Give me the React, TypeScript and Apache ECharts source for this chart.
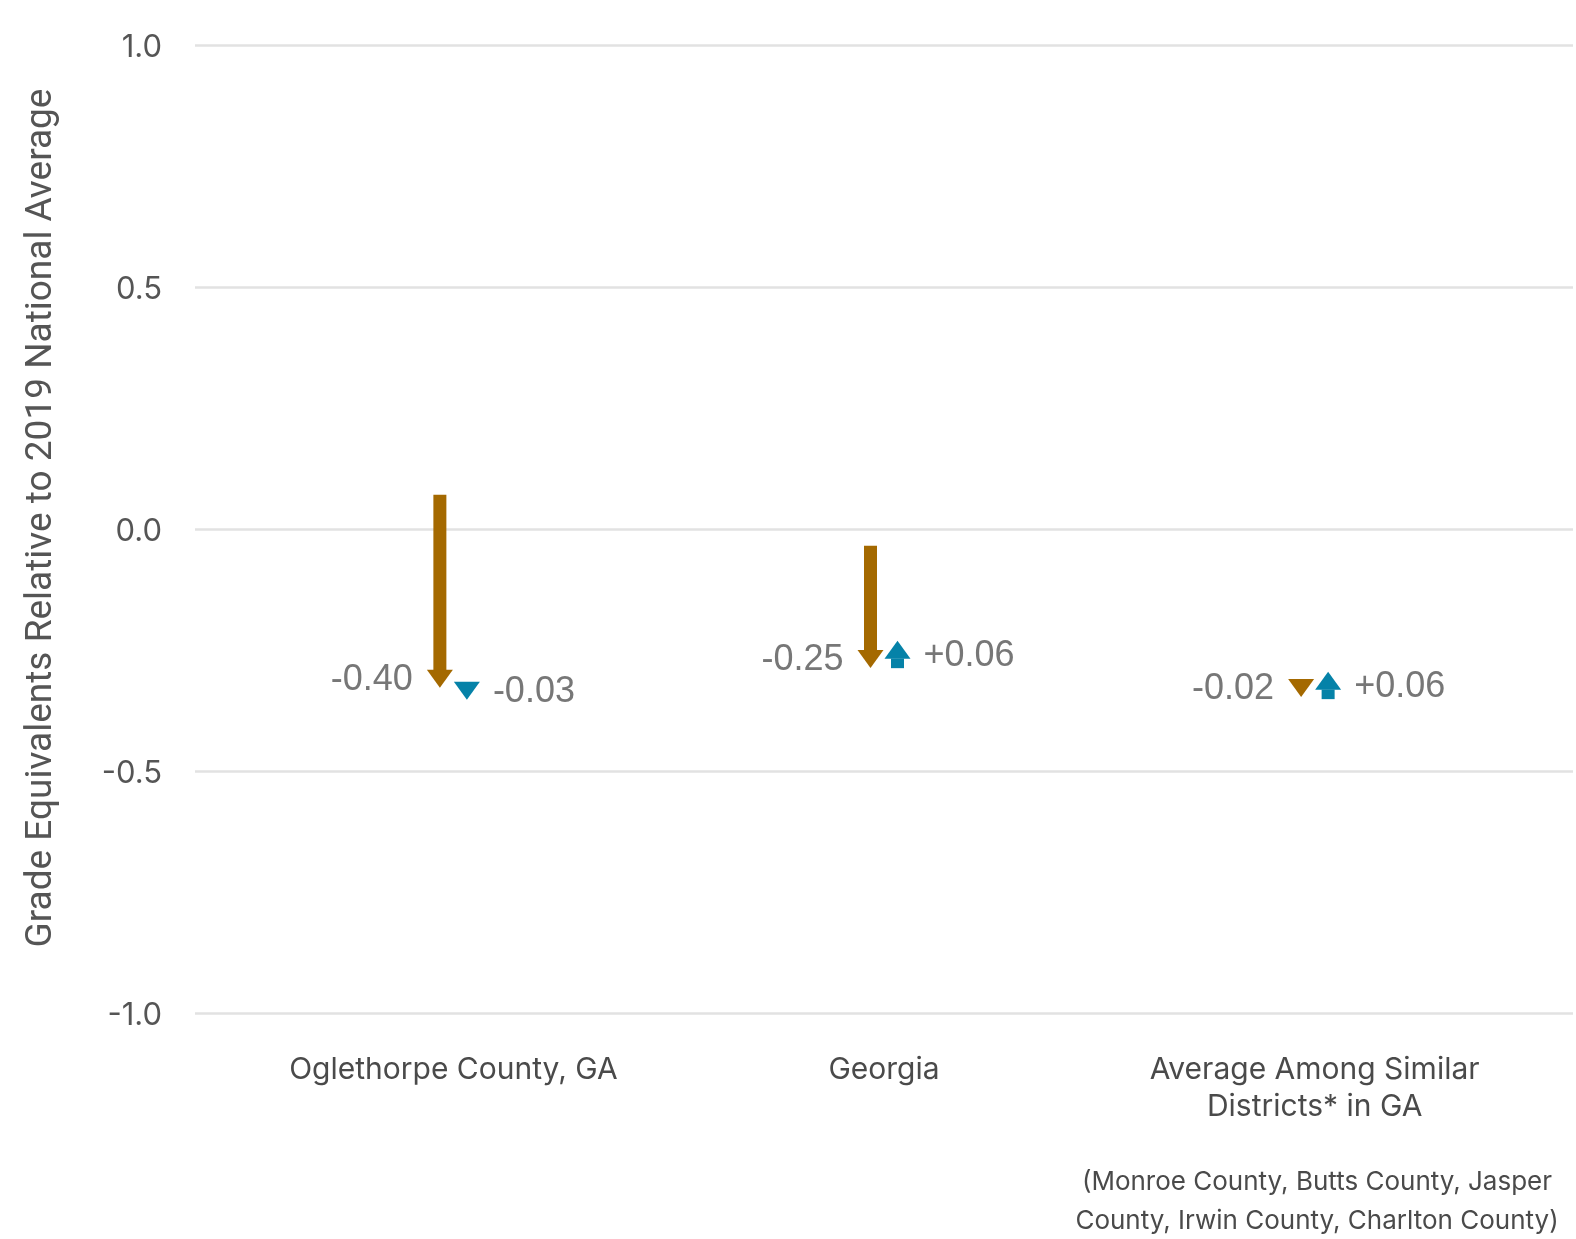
import React, { useEffect, useRef } from "react";
import * as echarts from "echarts";

const categories = ["Oglethorpe County, GA", "Georgia", "Average Among Similar\nDistricts* in GA"];
const orangeStart = [0.07, -0.035, -0.327];
const orangeEnd = [-0.328, -0.287, -0.347];
const blueStart = [-0.323, -0.287, -0.351];
const blueEnd = [-0.353, -0.231, -0.295];
const orangeLabels = ["-0.40", "-0.25", "-0.02"];
const blueLabels = ["-0.03", "+0.06", "+0.06"];
const footnote = "(Monroe County, Butts County, Jasper\nCounty, Irwin County, Charlton County)";
const yTitle = "Grade Equivalents Relative to 2019 National Average";

const ORANGE = "#A46900";
const BLUE = "#0582A8";

function makeArrowRender(color: string, offset: number, labels: string[], side: "left" | "right") {
  return (params: any, api: any) => {
    const idx = api.value(0);
    const x = api.coord([idx, 0])[0] + offset;
    const y0 = api.coord([idx, api.value(1)])[1];
    const y1 = api.coord([idx, api.value(2)])[1];
    const dir = y1 >= y0 ? 1 : -1;
    const headLen = 18;
    const headW = 26;
    const shaftW = 13;
    const children: any[] = [];
    const baseY = y1 - dir * headLen;
    if (Math.abs(y1 - y0) > headLen) {
      const top = Math.min(y0, baseY);
      const h = Math.abs(baseY - y0);
      children.push({
        type: "rect",
        shape: { x: x - shaftW / 2, y: top - 0.25, width: shaftW, height: h + 0.5 },
        style: { fill: color },
      });
    }
    children.push({
      type: "polygon",
      shape: { points: [[x - headW / 2, baseY], [x + headW / 2, baseY], [x, y1]] },
      style: { fill: color },
    });
    const ly = dir > 0 ? y1 - 10 : y1 + 13;
    children.push({
      type: "text",
      style: {
        text: labels[params.dataIndex],
        x: side === "left" ? x - 27 : x + 26,
        y: ly,
        align: side === "left" ? "right" : "left",
        verticalAlign: "middle",
        fill: "#777777",
        fontSize: 36,
        fontFamily: "Liberation Sans, Arial, sans-serif",
      },
    });
    return { type: "group", children };
  };
}

export default function App() {
  const ref = useRef<HTMLDivElement>(null);
  useEffect(() => {
    if (!ref.current) return;
    const chart = echarts.init(ref.current, undefined, { renderer: "svg" });
    const orangeData = categories.map((_, i) => [i, orangeStart[i], orangeEnd[i]]);
    const blueData = categories.map((_, i) => [i, blueStart[i], blueEnd[i]]);
    chart.setOption({
      animation: false,
      grid: { left: 195, right: 3, top: 45, bottom: 226 },
      xAxis: {
        type: "value",
        min: -0.6,
        max: 2.6,
        splitLine: { show: false },
        axisLine: { show: false },
        axisTick: { show: false },
        axisLabel: {
          customValues: [0, 1, 2],
          formatter: (v: number) => categories[Math.round(v)] ?? "",
          margin: 36,
          fontSize: 30,
          lineHeight: 37,
          color: "#4a4a4a",
          fontFamily: "Inter, sans-serif",
          align: "center",
        },
      },
      yAxis: {
        type: "value",
        min: -1,
        max: 1,
        interval: 0.5,
        axisLine: { show: false },
        axisTick: { show: false },
        splitLine: { lineStyle: { color: "#e2e2e2", width: 2.5 } },
        axisLabel: {
          formatter: (v: number) => v.toFixed(1),
          margin: 33,
          fontSize: 31,
          color: "#555555",
          fontFamily: "Inter, sans-serif",
        },
      },
      graphic: [
        {
          type: "text",
          x: 38,
          y: 518,
          rotation: Math.PI / 2,
          style: {
            text: yTitle,
            align: "center",
            verticalAlign: "middle",
            fontSize: 37,
            fill: "#555555",
            fontFamily: "Roboto, sans-serif",
          },
        },
        {
          type: "text",
          x: 1317,
          y: 1161,
          style: {
            text: footnote,
            align: "center",
            verticalAlign: "top",
            fontSize: 26,
            lineHeight: 39,
            fill: "#4a4a4a",
            fontFamily: "Inter, sans-serif",
          },
        },
      ],
      series: [
        {
          type: "custom",
          name: "orange",
          data: orangeData,
          renderItem: makeArrowRender(ORANGE, -13.5, orangeLabels, "left"),
        },
        {
          type: "custom",
          name: "blue",
          data: blueData,
          renderItem: makeArrowRender(BLUE, 13.5, blueLabels, "right"),
        },
      ],
    });
    return () => chart.dispose();
  }, []);
  return (
    <div
      ref={ref}
      style={{ width: 1576, height: 1239, position: "fixed", left: 0, top: 0 }}
    />
  );
}
